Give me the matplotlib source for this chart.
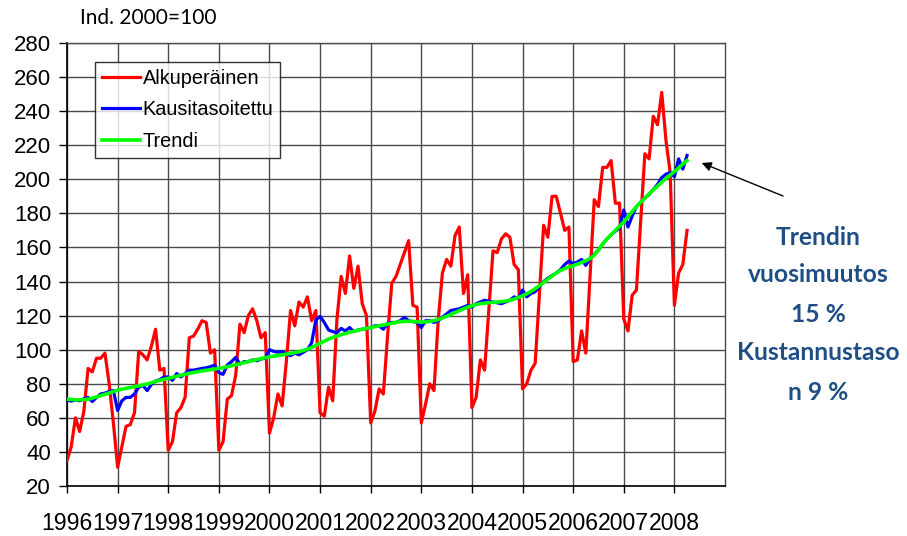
import numpy as np
import matplotlib
matplotlib.use("Agg")
import matplotlib.pyplot as plt

# Monthly index values, Jan 1996 - Apr 2008 (2000 = 100)
alkuperainen = [
    35, 43, 60, 52, 64, 89, 87, 95, 95, 98, 80, 57,
    31, 43, 55, 56, 63, 99, 97, 94, 102, 112, 88, 89,
    41, 46, 63, 66, 72, 107, 108, 112, 117, 116, 98, 100,
    41, 46, 71, 73, 85, 115, 110, 120, 124, 117, 107, 110,
    51, 60, 74, 67, 93, 123, 114, 128, 125, 131, 117, 123,
    63, 61, 78, 70, 118, 143, 133, 155, 136, 149, 127, 120,
    57, 64, 77, 74, 108, 139, 143, 150, 157, 164, 126, 125,
    57, 68, 80, 76, 117, 145, 153, 149, 167, 172, 133, 144,
    66, 72, 94, 88, 123, 158, 157, 165, 168, 166, 150, 147,
    77, 80, 88, 92, 133, 173, 166, 190, 190, 180, 170, 172,
    93, 94, 111, 98, 143, 188, 184, 207, 207, 211, 186, 186,
    118, 111, 132, 135, 175, 215, 212, 237, 232, 251, 223, 204,
    126, 145, 150, 170,
]

kausitasoitettu = [
    70.6, 69.8, 70.6, 70.0, 71.2, 72.0, 69.6, 72.0, 74.0, 74.5, 75.5, 76.0,
    64.3, 70.0, 72.0, 72.0, 74.0, 78.0, 79.0, 76.0, 79.6, 81.6, 82.4, 84.0,
    84.0, 82.0, 86.0, 84.0, 86.0, 88.0, 88.0, 88.5, 89.0, 89.4, 90.0, 91.0,
    86.5, 85.5, 91.0, 93.0, 95.5, 91.5, 93.0, 93.0, 94.0, 93.5, 94.5, 95.0,
    100.0, 99.0, 98.5, 99.0, 97.5, 96.5, 98.0, 97.0, 98.5, 100.0, 104.0, 117.5,
    119.5, 116.0, 111.6, 110.6, 110.0, 112.5, 111.0, 113.0, 110.6, 111.6, 112.0, 112.5,
    113.0, 114.0, 114.0, 112.0, 115.5, 116.0, 116.0, 117.0, 119.0, 117.0, 116.5, 116.0,
    113.0, 117.0, 117.0, 116.0, 117.0, 119.0, 121.0, 123.0, 123.5, 124.0, 125.0, 126.0,
    125.0, 127.0, 128.0, 129.0, 128.5, 128.0, 127.5, 127.0, 128.0, 129.0, 131.0, 130.0,
    135.0, 131.0, 133.0, 134.0, 137.0, 140.0, 142.0, 143.5, 145.0, 147.0, 150.0, 152.0,
    150.5, 151.5, 153.0, 149.5, 153.5, 156.0, 158.5, 162.0, 165.0, 167.5, 169.5, 171.5,
    182.0, 172.0, 178.5, 184.0, 186.5, 189.0, 191.0, 194.0, 197.0, 201.0, 203.0, 204.0,
    201.5, 212.0, 206.0, 214.0,
]

trendi = [
    71.0, 70.8, 70.6, 70.6, 70.7, 71.0, 71.6, 72.3, 73.0, 73.8, 74.6, 75.4,
    76.2, 76.8, 77.3, 77.8, 78.3, 78.8, 79.3, 79.9, 80.6, 81.3, 82.0, 82.6,
    83.2, 83.8, 84.4, 85.0, 85.6, 86.1, 86.6, 87.1, 87.5, 87.9, 88.3, 88.6,
    89.0, 89.5, 90.0, 90.6, 91.2, 91.8, 92.4, 93.0, 93.6, 94.2, 94.8, 95.3,
    95.8, 96.2, 96.6, 97.0, 97.4, 97.8, 98.3, 98.8, 99.5, 100.3, 101.3, 102.5,
    103.8, 105.0, 106.2, 107.2, 108.0, 108.8, 109.5, 110.2, 110.8, 111.4, 112.0, 112.5,
    113.0, 113.5, 114.0, 114.5, 115.0, 115.5, 116.0, 116.4, 116.6, 116.7, 116.6, 116.4,
    116.2, 116.3, 116.6, 117.0, 117.7, 118.6, 119.6, 120.7, 121.8, 122.9, 124.0, 125.0,
    125.8, 126.5, 127.0, 127.3, 127.6, 127.8, 128.0, 128.2, 128.5, 129.0, 129.7, 130.6,
    131.6, 132.8, 134.2, 135.8, 137.6, 139.5, 141.4, 143.2, 145.0, 146.5, 147.6, 148.5,
    149.3, 150.2, 151.2, 152.2, 153.5, 155.5, 158.5, 162.0, 165.0, 167.5, 170.0, 172.5,
    175.0, 178.0, 181.0, 184.0, 186.5, 189.0, 191.5, 193.7, 196.0, 198.3, 200.5, 202.5,
    204.5, 206.7, 209.0, 211.0,
]

vuodet = list(range(1996, 2009))
y_ticks = list(range(20, 281, 20))
series_names = ["Alkuperäinen", "Kausitasoitettu", "Trendi"]
note_lines = ["Trendin", "vuosimuutos", "15 %", "Kustannustaso", "n 9 %"]

start_year = 1996
months = np.arange(len(alkuperainen))
x = start_year + months / 12.0

W, H = 907, 536
fig = plt.figure(figsize=(W / 100, H / 100), dpi=100)
ax = fig.add_axes([67 / W, 1 - 486 / H, 658 / W, 443 / H])

ax.plot(x, alkuperainen, color="#FF0000", lw=2.3, label=series_names[0],
        solid_joinstyle="round", zorder=3)
ax.plot(x, kausitasoitettu, color="#0000FF", lw=2.3, label=series_names[1],
        solid_joinstyle="round", zorder=4)
ax.plot(x, trendi, color="#00FF00", lw=2.6, label=series_names[2],
        solid_joinstyle="round", zorder=5)

ax.set_xlim(1996, 2009)
ax.set_ylim(20, 280)
ax.set_yticks(y_ticks)
ax.set_xticks(vuodet)
ax.set_xticklabels([str(v) for v in vuodet], family="Liberation Sans", size=16.6)
ax.set_yticklabels([str(v) for v in y_ticks], family="Liberation Sans", size=16.0)
ax.tick_params(axis="y", direction="out", length=5.5, width=1.0, pad=6)
ax.tick_params(axis="x", direction="out", length=5, width=1.0, pad=13.5)

ax.grid(True, color="#4a4a4a", lw=1.0, zorder=1)
for side in ["left", "bottom"]:
    ax.spines[side].set_color("black")
    ax.spines[side].set_linewidth(1.2)
for side in ["top", "right"]:
    ax.spines[side].set_color("#4a4a4a")
    ax.spines[side].set_linewidth(1.0)

leg = ax.legend(loc="upper left", bbox_to_anchor=(28 / 658, (486 - 62) / 443),
                borderaxespad=0, frameon=True, fancybox=False, edgecolor="black",
                prop=dict(family="Liberation Sans", size=14.3),
                handlelength=1.9, handletextpad=0.15, labelspacing=0.62,
                borderpad=0.35)
leg.get_frame().set_linewidth(1.0)
leg.set_zorder(10)

fig.text(148 / W, 1 - 18 / H, "Ind. 2000=100", ha="center", va="center",
         family="Lato", size=15)

# Annotation on the right side
note_color = "#1F4E85"
note_y = [237, 275, 315, 353, 392]
for line, yy in zip(note_lines, note_y):
    fig.text(818 / W, 1 - yy / H, line, ha="center", va="center",
             family="Lato", weight="bold", size=17.7, color=note_color)

ax.annotate("", xy=(2008.54, 209.6), xycoords="data",
            xytext=(783, H - 196), textcoords="figure pixels",
            arrowprops=dict(arrowstyle="-|>", color="black", lw=1.0,
                            mutation_scale=14, shrinkA=0, shrinkB=0),
            annotation_clip=False)

fig.savefig("out.png", dpi=100)
